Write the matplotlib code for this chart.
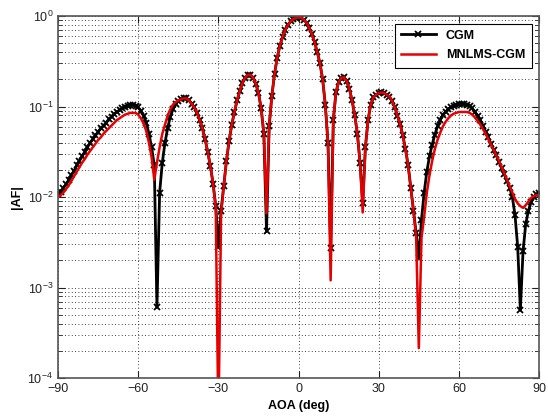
import matplotlib.pyplot as plt
from matplotlib.ticker import LogLocator, FixedLocator

plt.rcParams['font.family'] = ['Liberation Sans', 'DejaVu Sans']
plt.rcParams['mathtext.fontset'] = 'custom'
plt.rcParams['mathtext.rm'] = 'Liberation Sans'

# angle of arrival, 1 degree steps
aoa = list(range(-90, 91))

# |AF|, -90 .. 90
af_cgm = [
    0.0107, 0.0115, 0.0126, 0.0138, 0.0155, 0.0174, 0.0195, 0.0224, 0.0251, 0.0282,   # -90..-81
    0.0316, 0.0355, 0.0398, 0.0437, 0.0479, 0.0525, 0.0575, 0.0617, 0.0661, 0.0724,   # -80..-71
    0.0776, 0.0832, 0.0871, 0.0912, 0.0955, 0.100, 0.102, 0.105, 0.105, 0.102,        # -70..-61
    0.0977, 0.0891, 0.0794, 0.0661, 0.0501, 0.0355, 0.0224, 0.000603, 0.0112, 0.0240, # -60..-51
    0.0398, 0.0575, 0.0776, 0.0933, 0.107, 0.115, 0.120, 0.123, 0.123, 0.117,         # -50..-41
    0.107, 0.0977, 0.0851, 0.0708, 0.0575, 0.0437, 0.0316, 0.0219, 0.0141, 0.00794,   # -40..-31
    0.00282, 0.00708, 0.0132, 0.0251, 0.0417, 0.0631, 0.0871, 0.117, 0.148, 0.182,    # -30..-21
    0.209, 0.224, 0.224, 0.209, 0.178, 0.141, 0.0955, 0.0501, 0.00417, 0.0603,        # -20..-11
    0.132, 0.229, 0.347, 0.468, 0.589, 0.700, 0.794, 0.871, 0.923, 0.955,             # -10..-1
    0.966,                                                                            # 0
    0.955, 0.912, 0.841, 0.741, 0.631, 0.513, 0.398, 0.302, 0.200, 0.105,             # 1..10
    0.0398, 0.00275, 0.0708, 0.145, 0.186, 0.207, 0.211, 0.191, 0.158, 0.117,         # 11..20
    0.0813, 0.0501, 0.0240, 0.00851, 0.0355, 0.0708, 0.105, 0.126, 0.135, 0.141,      # 21..30
    0.143, 0.141, 0.135, 0.129, 0.115, 0.0977, 0.0794, 0.0646, 0.0479, 0.0339,        # 31..40
    0.0224, 0.0126, 0.00708, 0.00398, 0.00214, 0.00562, 0.0112, 0.0191, 0.0282, 0.0380, # 41..50
    0.0490, 0.0603, 0.0708, 0.0813, 0.0871, 0.0933, 0.0977, 0.102, 0.105, 0.106,      # 51..60
    0.107, 0.107, 0.105, 0.102, 0.0955, 0.0871, 0.0794, 0.0708, 0.0617, 0.0525,       # 61..70
    0.0457, 0.0389, 0.0331, 0.0288, 0.0245, 0.0209, 0.0178, 0.0151, 0.0126, 0.0100,   # 71..80
    0.00631, 0.00282, 0.000562, 0.00251, 0.00501, 0.00708, 0.00871, 0.0100, 0.0107, 0.0110, # 81..90
]

af_mnlms = [
    0.0100, 0.0105, 0.0112, 0.0123, 0.0135, 0.0151, 0.0170, 0.0191, 0.0214, 0.0240,   # -90..-81
    0.0263, 0.0295, 0.0324, 0.0355, 0.0389, 0.0427, 0.0457, 0.0501, 0.0537, 0.0575,   # -80..-71
    0.0617, 0.0661, 0.0708, 0.0741, 0.0776, 0.0813, 0.0832, 0.0851, 0.0851, 0.0851,   # -70..-61
    0.0813, 0.0741, 0.0646, 0.0537, 0.0398, 0.0275, 0.0155, 0.0240, 0.0355, 0.0501,   # -60..-51
    0.0631, 0.0794, 0.0933, 0.105, 0.112, 0.117, 0.120, 0.123, 0.123, 0.117,          # -50..-41
    0.107, 0.0977, 0.0851, 0.0708, 0.0575, 0.0437, 0.0316, 0.0219, 0.0141, 0.00759,   # -40..-31
    0.00003, 0.00661, 0.0132, 0.0251, 0.0417, 0.0631, 0.0871, 0.117, 0.148, 0.182,    # -30..-21
    0.209, 0.224, 0.224, 0.209, 0.178, 0.141, 0.0955, 0.0501, 0.00661, 0.0631,        # -20..-11
    0.132, 0.229, 0.347, 0.468, 0.589, 0.700, 0.794, 0.871, 0.923, 0.955,             # -10..-1
    0.966,                                                                            # 0
    0.955, 0.912, 0.841, 0.741, 0.631, 0.513, 0.398, 0.302, 0.200, 0.105,             # 1..10
    0.0398, 0.00120, 0.0708, 0.145, 0.186, 0.207, 0.211, 0.191, 0.158, 0.117,         # 11..20
    0.0813, 0.0501, 0.0240, 0.00676, 0.0355, 0.0708, 0.105, 0.126, 0.135, 0.141,      # 21..30
    0.143, 0.141, 0.135, 0.129, 0.115, 0.0977, 0.0794, 0.0646, 0.0479, 0.0339,        # 31..40
    0.0224, 0.0126, 0.00708, 0.00355, 0.000214, 0.00355, 0.00603, 0.0112, 0.0174, 0.0251, # 41..50
    0.0339, 0.0427, 0.0513, 0.0603, 0.0676, 0.0741, 0.0794, 0.0832, 0.0851, 0.0871,   # 51..60
    0.0871, 0.0871, 0.0871, 0.0851, 0.0813, 0.0759, 0.0692, 0.0631, 0.0562, 0.0501,   # 61..70
    0.0437, 0.0380, 0.0331, 0.0288, 0.0251, 0.0214, 0.0182, 0.0155, 0.0132, 0.0112,   # 71..80
    0.00955, 0.00851, 0.00794, 0.00759, 0.00813, 0.00891, 0.00977, 0.0102, 0.0105, 0.0105, # 81..90
]

xticks = [-90, -60, -30, 0, 30, 60, 90]

fig = plt.figure(figsize=(5.48, 4.17), dpi=100)
ax = fig.add_axes([0.106, 0.0935, 0.8777, 0.868])

ax.semilogy(aoa, af_cgm, color='k', lw=2.0, marker='x', ms=4.5, mew=1.3, label='CGM')
ax.semilogy(aoa, af_mnlms, color=(0.9, 0, 0), lw=1.8, label='MNLMS-CGM')

ax.set_xlim(-90, 90)
ax.set_ylim(1e-4, 1)
ax.xaxis.set_major_locator(FixedLocator(xticks))
ax.yaxis.set_major_locator(LogLocator(base=10, numticks=10))
ax.yaxis.set_minor_locator(LogLocator(base=10, subs=range(2, 10), numticks=20))
ax.yaxis.set_minor_formatter(plt.NullFormatter())

ax.grid(True, which='major', color='k', ls=(0, (1, 3)), lw=0.6)
ax.grid(True, which='minor', axis='y', color='k', ls=(0, (1, 3)), lw=0.6)

ax.tick_params(which='both', direction='in', top=True, right=True, labelsize=9, colors='#222222')
ax.tick_params(which='major', length=5)
ax.tick_params(which='minor', length=3)
for s in ax.spines.values():
    s.set_color('#555555')
    s.set_linewidth(1.2)

ax.set_xlabel('AOA (deg)', fontweight='bold', fontsize=9, labelpad=4)
ax.set_ylabel('|AF|', fontweight='bold', fontsize=9, labelpad=3)

leg = ax.legend(loc='upper right', fancybox=False, edgecolor='k', framealpha=1,
                prop={'weight': 'bold', 'size': 9}, handlelength=2.8, borderpad=0.5,
                borderaxespad=0.6, labelspacing=0.6)
leg.get_frame().set_linewidth(0.8)

plt.savefig('out.png', dpi=100)
